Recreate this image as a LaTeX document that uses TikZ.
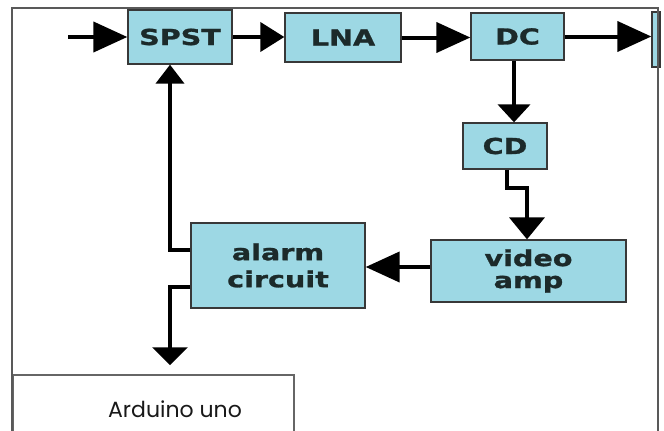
\documentclass[tikz,border=0pt]{standalone}
\usepackage{fontspec}
\usetikzlibrary{arrows.meta,calc}
\newfontfamily\blkfont{DejaVu Sans}[FakeStretch=1.3,FakeBold=1.2]
\newfontfamily\ardfont{Poppins}
\definecolor{boxfill}{HTML}{9DD8E4}
\definecolor{boxline}{HTML}{383838}
\definecolor{boxtext}{HTML}{1C2A2A}
\tikzset{
  blk/.style={draw=boxline, line width=1.3pt, fill=boxfill, rectangle, inner sep=0pt,
    text=boxtext, font=\blkfont\bfseries\fontsize{22}{25}\selectfont, align=center},
  conn/.style={line width=4pt, draw=black},
  headbig/.style={-{Triangle[length=34pt,width=30pt]}},
  headflat/.style={-{Triangle[length=18pt,width=32pt]}},
  frameline/.style={draw=black!65, line width=1.5pt}
}
\begin{document}
\begin{tikzpicture}[x=1pt,y=-1pt]
\clip (0,0) rectangle (664,431);
\fill[white] (0,0) rectangle (664,431);
% blocks
\node[blk, minimum width=104pt, minimum height=54pt] (spst) at (180,37) {SPST};
\node[blk, minimum width=116pt, minimum height=49pt] (lna) at (343,37.5) {LNA};
\node[blk, minimum width=93pt, minimum height=47pt] (dc) at (517.5,36.5) {DC};
\node[blk, minimum width=8pt, minimum height=55pt] (out) at (656,39.5) {};
\node[blk, minimum width=84pt, minimum height=46pt] (cd) at (505,146) {CD};
\node[blk, minimum width=195pt, minimum height=62pt] (vid) at (528.5,271) {video\\[-3pt]amp};
\node[blk, minimum width=174pt, minimum height=85pt] (alarm) at (278,265.5) {alarm\\[2pt]circuit};
\node[draw=black!60, line width=1.5pt, fill=white, rectangle, minimum width=281pt, minimum height=80pt, inner sep=0pt] (ard) at (153.5,415) {};
\node[font=\ardfont\fontsize{22}{25}\selectfont, text=black!90, anchor=base] (ardlbl) at (175,417) {Arduino uno};
% frame
\draw[frameline] (12,440) -- (12,8) -- (658,8) -- (658,440);
% connectors
\coordinate (in) at (68,37);
\draw[conn, headbig] (in) -- (spst.west);
\draw[conn, -{Triangle[length=24pt,width=29pt]}] (spst.east) -- (spst.east -| lna.west);
\draw[conn, headbig] (lna.east) -- (lna.east -| dc.west);
\draw[conn, headbig] (dc.east) -- (dc.east -| out.west);
\draw[conn, headflat] ([xshift=-3.5pt]dc.south) -- ([xshift=-3.5pt]dc.south |- cd.north);
\draw[conn, -{Triangle[length=22pt,width=35pt]}] ([xshift=2pt]cd.south) -- ++(0,18) -| ([xshift=-1.5pt]vid.north);
\draw[conn, headbig] ([yshift=4pt]vid.west) -- ([yshift=-1.5pt]alarm.east);
\draw[conn, -{Triangle[length=19pt,width=28pt]}] ([yshift=15.5pt]alarm.west) -| ([xshift=-10pt]spst.south);
\draw[conn, -{Triangle[length=18pt,width=35pt]}] ([yshift=-21.5pt]alarm.west) -| ([xshift=16.5pt,yshift=9pt]ard.north);
\end{tikzpicture}
\end{document}
